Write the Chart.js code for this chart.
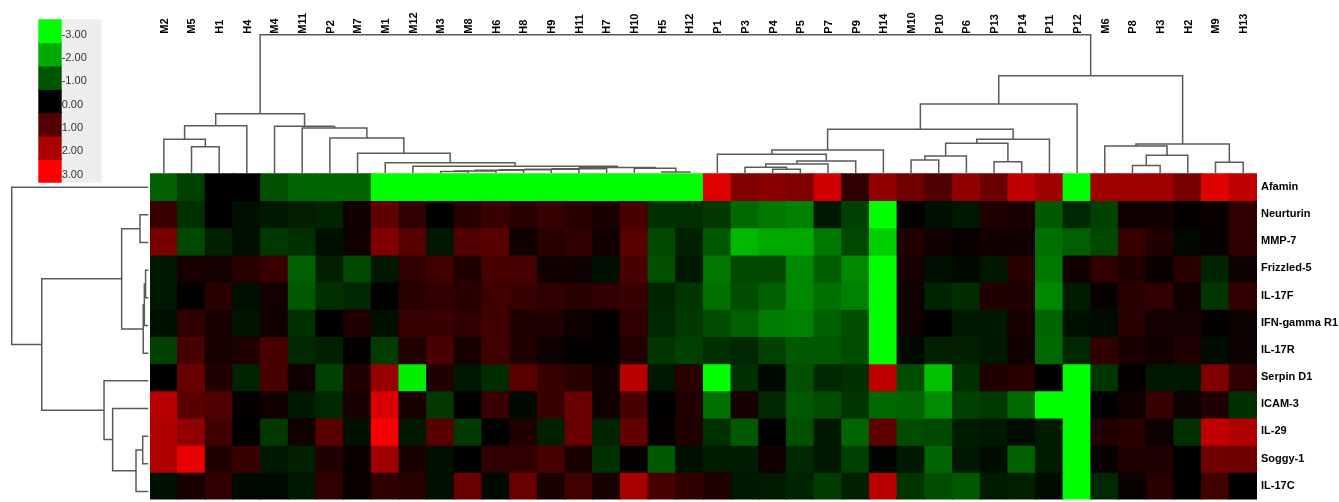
<!DOCTYPE html>
<html>
<head>
<meta charset="utf-8">
<title>Clustered protein expression heatmap</title>
<script src="https://cdn.jsdelivr.net/npm/chart.js@4.4.1/dist/chart.umd.min.js"></script>
<style>
  html, body { margin: 0; padding: 0; background: #ffffff; overflow: hidden; width: 1339px; height: 502px; }
  canvas { position: absolute; left: 0; top: 0; }
</style>
</head>
<body>
<canvas id="heat" width="1339" height="510"></canvas>
<canvas id="colTree" width="1339" height="176"></canvas>
<canvas id="rowTree" width="150" height="510"></canvas>
<canvas id="key" width="110" height="190"></canvas>
<script>
// ---- Samples (columns, in dendrogram order) ----
const colNames = ['M2','M5','H1','H4','M4','M11','P2','M7','M1','M12','M3','M8','H6','H8','H9','H11','H7','H10','H5','H12',
                  'P1','P3','P4','P5','P7','P9','H14','M10','P10','P6','P13','P14','P11','P12','M6','P8','H3','H2','M9','H13'];

// ---- Proteins (rows, in dendrogram order) ----
const rowNames = ['Afamin','Neurturin','MMP-7','Frizzled-5','IL-17F','IFN-gamma R1','IL-17R','Serpin D1','ICAM-3','IL-29','Soggy-1','IL-17C'];

// ---- Log-ratio expression per protein, one value per sample ----
const afamin     = [-1.13,-0.75,0,0,-0.94,-1.18,-1.2,-1.2,-3,-3, -3,-3,-3,-3,-3,-3,-3,-3,-3,-3,
                    2.64,1.5,1.62,1.5,2.45,0.56,1.7,1.32,0.94,1.7, 1.25,2.26,1.88,-3,1.88,1.88,1.88,1.41,2.64,2.26];
const neurturin  = [0.68,-0.56,0,-0.19,-0.28,-0.38,-0.42,0.19,1.13,0.56, 0,0.47,0.66,0.47,0.66,0.47,0.31,0.85,-0.56,-0.56,
                    -0.66,-1.22,-1.41,-1.5,-0.28,-0.75,-3,0.06,-0.19,-0.28, 0.38,0.28,-1.04,-0.47,-0.75,0.19,0.19,0.06,0.1,0.56];
const mmp7       = [1.41,-0.85,-0.38,-0.19,-0.66,-0.56,-0.19,0.19,1.5,1.04, -0.28,0.94,1.04,0.19,0.47,0.56,0.19,1.04,-0.85,-0.38,
                    -1.04,-2.17,-1.98,-1.98,-1.41,-0.85,-2.45,0.38,0.19,0.1, 0.19,0.19,-1.32,-1.13,-0.85,0.66,0.38,-0.1,0.1,0.56];
const frizzled5  = [-0.28,0.28,0.24,0.47,0.66,-1.13,-0.38,-0.85,-0.28,0.56, 0.75,0.38,0.85,0.85,0.19,0.14,-0.19,0.85,-0.94,-0.28,
                    -1.41,-0.85,-0.85,-1.6,-1.08,-1.6,-3,0.28,-0.19,-0.1, -0.28,0.47,-1.41,0.19,0.56,0.38,0.1,0.47,-0.42,0.14];
const il17f      = [-0.28,0.05,0.47,-0.19,0.24,-1.04,-0.56,-0.47,0,0.47, 0.56,0.47,0.75,0.66,0.56,0.47,0.56,0.66,-0.42,-0.62,
                    -1.32,-0.9,-1.13,-1.6,-1.32,-1.5,-3,0.19,-0.42,-0.52, 0.38,0.38,-1.6,-0.33,0.1,0.47,0.56,0.19,-0.62,0.56];
const ifngR1     = [-0.19,0.56,0.28,-0.24,0.19,-0.56,0,0.38,-0.19,0.66, 0.66,0.56,0.75,0.38,0.38,0.14,0.06,0.56,-0.47,-0.66,
                    -0.9,-1.13,-1.46,-1.5,-1.13,-0.9,-3,0.19,0,-0.28, -0.28,0.28,-1.18,-0.19,-0.14,0.47,0.24,0.24,0.06,0.14];
const il17r      = [-0.75,0.85,0.28,0.38,0.85,-0.47,-0.38,0.06,-0.7,0.38, 0.85,0.28,0.75,0.38,0.14,0.06,0.06,0.38,-0.62,-0.75,
                    -0.56,-0.47,-0.75,-1.04,-1.04,-0.9,-3,-0.1,-0.38,-0.38, -0.28,0.19,-1.22,-0.47,0.56,0.28,0.19,0.38,-0.14,0.14];
const serpinD1   = [0,1.22,0.38,-0.42,0.85,0.19,-0.75,0.38,1.79,-2.8, 0.38,-0.28,-0.52,1.04,0.66,0.47,0.19,2.17,-0.28,0.47,
                    -3,-0.56,-0.1,-0.94,-0.47,-0.56,2.26,-0.9,-2.26,-0.56, 0.38,0.47,0,-3,-0.62,0.06,-0.28,-0.28,1.5,0.56];
const icam3      = [2.17,1.04,0.94,0.06,0.19,-0.28,-0.47,0.28,2.54,0.28, -0.66,0,0.66,-0.1,0.66,1.22,0.19,0.85,0,0.38,
                    -1.32,0.28,-0.47,-1.04,-0.9,-0.62,-1.22,-1.18,-1.65,-0.75, -0.66,-1.22,-3,-3,0,0.19,0.66,0.14,0.38,-0.56];
const il29       = [2.07,1.7,0.75,0,-0.66,0.19,1.04,-0.19,2.92,-0.28, 1.04,-0.66,0,0.38,-0.38,1.22,-0.42,1.13,0.06,0.38,
                    -0.56,-1.04,0,-0.94,-0.28,-1.18,1.13,-0.9,-0.85,-0.33, -0.28,-0.14,-0.33,-3,0.38,0.47,0.14,-0.56,2.26,2.07];
const soggy1     = [2.07,2.73,0.38,0.66,-0.28,-0.38,0.38,0.1,1.88,0.28, -0.19,0,0.56,0.56,0.85,0.28,-0.56,0.06,-1.04,-0.19,
                    -0.33,-0.33,0.19,-0.47,-0.28,-0.75,-0.06,-0.28,-1.18,-0.28, -0.14,-1.13,-0.33,-3,0.1,0.38,0.38,0,1.32,1.32];
const il17c      = [-0.19,0.28,0.56,-0.1,-0.1,-0.28,0.56,0.1,0.56,0.47, -0.19,1.22,-0.1,1.22,0.28,0.75,0.28,1.98,0.85,0.56,
                    0.38,-0.28,-0.33,-0.42,-0.7,-0.38,2.17,-0.62,-0.9,-1.04, -0.33,-0.38,-0.14,-3,-0.47,0.1,0.47,0,0.75,0];

const matrix = [afamin, neurturin, mmp7, frizzled5, il17f, ifngR1, il17r, serpinD1, icam3, il29, soggy1, il17c];

// ---- Colour key values ----
const keyValues = [-3, -2, -1, 0, 1, 2, 3];

// ---- Sample clustering: [childA, childB, linkage height]; ids < 40 are samples, id 40+k is merge k ----
const colMerges = [
  [1, 2, 0.190],  [0, 40, 0.244],  [41, 3, 0.342],
  [10, 11, 0.010], [43, 12, 0.014], [44, 13, 0.020], [45, 14, 0.024], [46, 15, 0.027], [47, 16, 0.031],
  [18, 19, 0.008], [17, 49, 0.035], [48, 50, 0.040],
  [9, 51, 0.048],  [8, 52, 0.074],  [7, 53, 0.142],  [6, 54, 0.253],  [5, 55, 0.325],  [4, 56, 0.338],
  [42, 57, 0.429],
  [22, 23, 0.028], [21, 59, 0.041], [60, 24, 0.065], [61, 25, 0.087], [20, 62, 0.135], [63, 26, 0.166],
  [27, 28, 0.094], [65, 29, 0.123], [30, 31, 0.082], [66, 67, 0.215], [68, 32, 0.244],
  [64, 69, 0.316], [70, 33, 0.499],
  [35, 36, 0.055], [72, 37, 0.128], [34, 73, 0.195], [38, 39, 0.077], [74, 75, 0.210],
  [71, 76, 0.704], [58, 77, 1.000]
];

// ---- Protein clustering: ids < 12 are proteins, id 12+k is merge k ----
const rowMerges = [
  [1, 2, 0.061], [3, 4, 0.020], [13, 5, 0.029], [14, 6, 0.037], [12, 15, 0.195],
  [9, 10, 0.041], [17, 11, 0.090], [8, 18, 0.261], [7, 19, 0.324],
  [16, 20, 0.780], [0, 21, 1.000]
];

const FONT = '"Liberation Sans", Arial, Helvetica, sans-serif';
const LINK_COLOR = '#5a5a5a';

// red for up, green for down, black at zero; saturates at |3|
function heatColor(v) {
  const c = Math.round(Math.min(Math.abs(v), 3) / 3 * 255);
  return v >= 0 ? `rgb(${c},0,0)` : `rgb(0,${c},0)`;
}

// turn merges into bracket polylines: leaf -> height -> height -> leaf
function buildLinks(nLeaves, merges, leafPos) {
  const pos = [], hgt = [];
  for (let i = 0; i < nLeaves; i++) { pos.push(leafPos(i)); hgt.push(0); }
  return merges.map(([a, b, h]) => {
    const seg = [[pos[a], hgt[a]], [pos[a], h], [pos[b], h], [pos[b], hgt[b]]];
    pos.push((pos[a] + pos[b]) / 2);
    hgt.push(h);
    return seg;
  });
}

const common = {
  responsive: false,
  animation: false,
  devicePixelRatio: 1,
  events: [],
  plugins: { legend: { display: false }, tooltip: { enabled: false } }
};

// ---- Heatmap: one stacked bar layer per protein ----
new Chart(document.getElementById('heat'), {
  type: 'bar',
  data: {
    labels: colNames,
    datasets: matrix.map((vals, r) => ({
      label: rowNames[r],
      data: vals.map(() => 1),
      backgroundColor: vals.map(heatColor),
      borderWidth: 0,
      barPercentage: 1,
      categoryPercentage: 1,
      inflateAmount: 0.6
    }))
  },
  options: {
    ...common,
    layout: { padding: { left: 150, top: 173.3, bottom: 510 - 505.3, right: 0 } },
    scales: {
      x: { stacked: true, display: false },
      y: {
        stacked: true, min: 0, max: 12, reverse: true, position: 'right',
        grid: { display: false, drawTicks: false }, border: { display: false },
        afterBuildTicks: s => { s.ticks = rowNames.map((_, i) => ({ value: i + 0.5 })); },
        afterFit: s => { s.width = 1339 - 1257; },
        ticks: {
          autoSkip: false, padding: 4, color: '#000',
          font: { family: FONT, size: 11, weight: 'bold' },
          callback: (v, i) => rowNames[i]
        }
      }
    }
  }
});

// ---- Sample dendrogram with sample names on top ----
new Chart(document.getElementById('colTree'), {
  type: 'scatter',
  data: {
    datasets: buildLinks(colNames.length, colMerges, i => i).map(seg => ({
      data: seg.map(([p, h]) => ({ x: p, y: h })),
      showLine: true, borderColor: LINK_COLOR, borderWidth: 1.5,
      pointRadius: 0, fill: false, clip: false
    }))
  },
  options: {
    ...common,
    layout: { padding: { left: 150, right: 1339 - 1257, top: 0, bottom: 176 - 173 } },
    scales: {
      x: {
        type: 'linear', position: 'top', min: -0.5, max: 39.5,
        grid: { display: false, drawTicks: false }, border: { display: false },
        afterBuildTicks: s => { s.ticks = colNames.map((_, i) => ({ value: i })); },
        afterFit: s => { s.height = 34.7; },
        ticks: {
          autoSkip: false, minRotation: 90, maxRotation: 90, padding: 1, labelOffset: 14, color: '#000',
          font: { family: FONT, size: 11, weight: 'bold' },
          callback: (v, i) => colNames[i]
        }
      },
      y: { type: 'linear', display: false, min: 0, max: 1 }
    }
  }
});

// ---- Protein dendrogram on the left ----
new Chart(document.getElementById('rowTree'), {
  type: 'scatter',
  data: {
    datasets: buildLinks(rowNames.length, rowMerges, i => i + 0.5).map(seg => ({
      data: seg.map(([p, h]) => ({ x: h, y: p })),
      showLine: true, borderColor: LINK_COLOR, borderWidth: 1.5,
      pointRadius: 0, fill: false, clip: false
    }))
  },
  options: {
    ...common,
    layout: { padding: { left: 11.7, right: 150 - 148.3, top: 173.3, bottom: 510 - 505.3 } },
    scales: {
      x: { type: 'linear', display: false, min: 0, max: 1, reverse: true },
      y: { type: 'linear', display: false, min: 0, max: 12, reverse: true }
    }
  }
});

// ---- Colour key ----
const keyPanel = {
  id: 'keyPanel',
  beforeDraw(chart) {
    const s = chart.scales.y, a = chart.chartArea, ctx = chart.ctx;
    ctx.save();
    ctx.fillStyle = '#eeeeee';
    ctx.fillRect(s.left, a.top, s.right - s.left, a.bottom - a.top);
    ctx.restore();
  }
};

new Chart(document.getElementById('key'), {
  type: 'bar',
  data: {
    labels: [''],
    datasets: keyValues.map(v => ({
      label: v.toFixed(2),
      data: [1],
      backgroundColor: heatColor(v),
      borderWidth: 0, barPercentage: 1, categoryPercentage: 1, inflateAmount: 0.6
    }))
  },
  options: {
    ...common,
    layout: { padding: { left: 38.3, top: 19.3, bottom: 190 - 182.7, right: 110 - 101.7 } },
    scales: {
      x: { stacked: true, display: false },
      y: {
        stacked: true, min: 0, max: 7, reverse: true, position: 'right',
        grid: { display: false, drawTicks: false }, border: { display: false },
        afterBuildTicks: s => { s.ticks = keyValues.map((_, i) => ({ value: i + 0.65 })); },
        afterFit: s => { s.width = 101.7 - 61.7; },
        ticks: {
          autoSkip: false, padding: 0, color: '#333',
          font: { family: FONT, size: 11 },
          callback: (v, i) => keyValues[i].toFixed(2)
        }
      }
    }
  },
  plugins: [keyPanel]
});
</script>
</body>
</html>
